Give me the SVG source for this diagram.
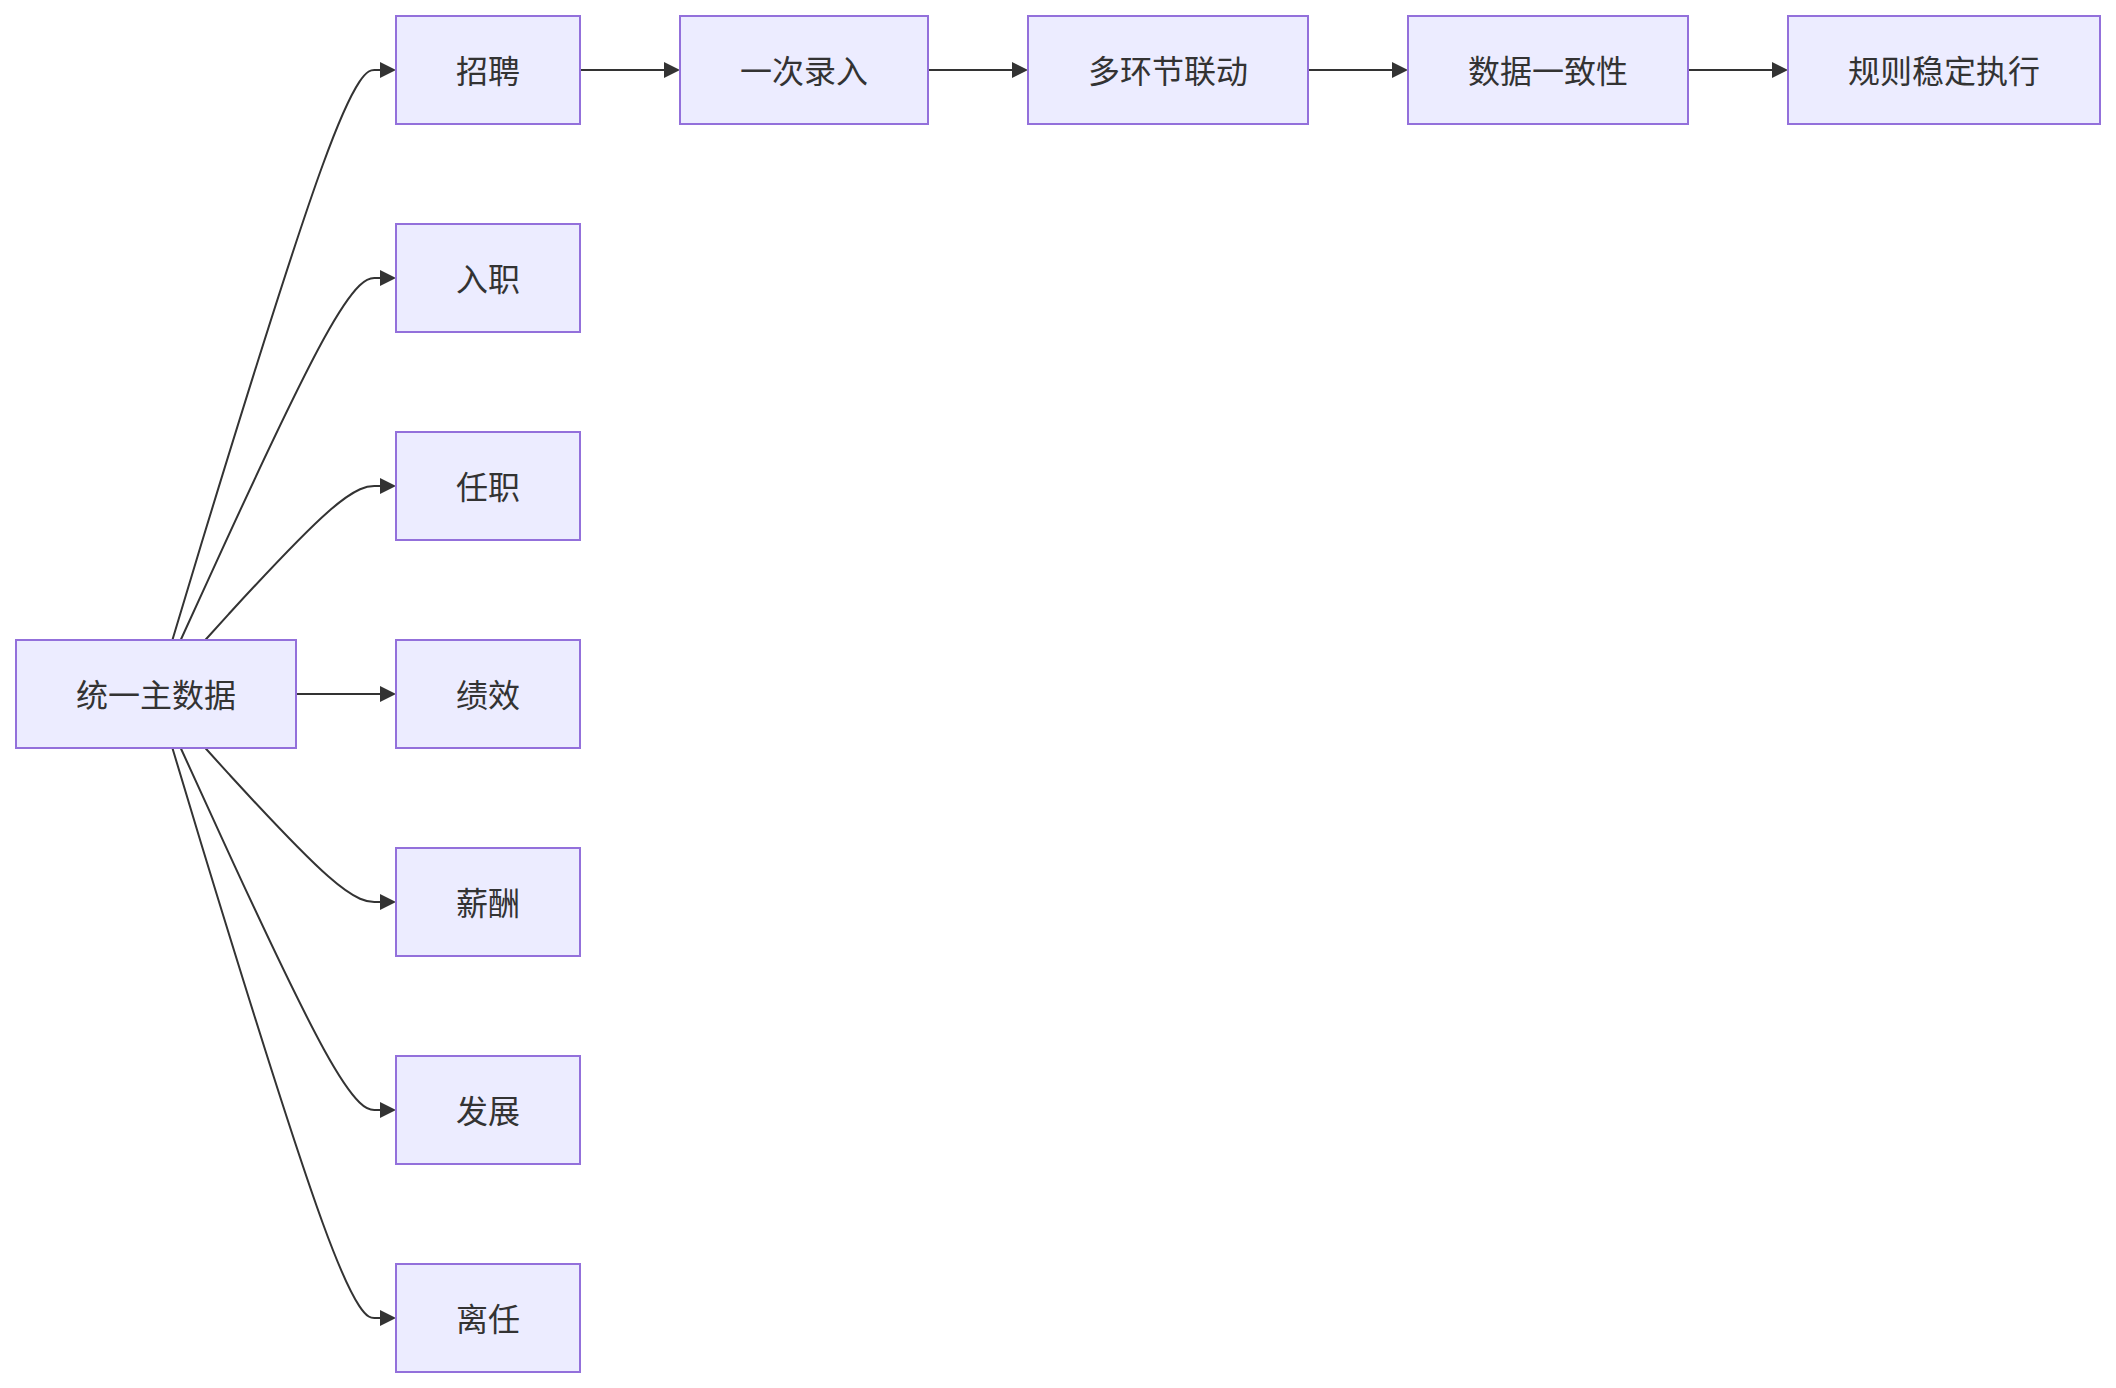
<svg xmlns="http://www.w3.org/2000/svg" width="2116" height="1388" viewBox="0 0 2116 1388">
<style>
.node rect{fill:#ECECFF;stroke:#9370DB;stroke-width:2}
.node text{font-family:"Noto Sans CJK SC","Noto Sans",sans-serif;font-size:32px;fill:#333333;text-anchor:middle;dominant-baseline:central}
.edge{fill:none;stroke:#333333;stroke-width:2;marker-end:url(#arrow)}
</style>
<defs>
<marker id="arrow" viewBox="0 0 10 10" refX="0" refY="5" markerWidth="16" markerHeight="16" markerUnits="userSpaceOnUse" orient="auto">
<path d="M0,0 L10,5 L0,10 z" fill="#333333"/>
</marker>
</defs>
<rect width="2116" height="1388" fill="#ffffff"/>
<g id="connectors">
<path class="edge" d="M172.4,640 L201,545 C230,450 288,260 322.7,165 C357.3,70 368.7,70 374.3,70 L380,70"/>
<path class="edge" d="M180.7,640 L208.3,579.7 C235.8,519.3 290.9,398.7 324.1,338.3 C357.3,278 368.7,278 374.3,278 L380,278"/>
<path class="edge" d="M205.3,640 L228.5,614.3 C252,588.7 299,537.3 328.2,511.7 C357.3,486 368.7,486 374.3,486 L380,486"/>
<path class="edge" d="M296,694 L380,694"/>
<path class="edge" d="M205.3,748 L228.5,773.7 C252,799.3 299,850.7 328.2,876.3 C357.3,902 368.7,902 374.3,902 L380,902"/>
<path class="edge" d="M180.7,748 L208.3,808.3 C235.8,868.7 290.9,989.3 324.1,1049.7 C357.3,1110 368.7,1110 374.3,1110 L380,1110"/>
<path class="edge" d="M172.4,748 L201,843 C230,938 288,1128 322.7,1223 C357.3,1318 368.7,1318 374.3,1318 L380,1318"/>
<path class="edge" d="M580,70 L664,70"/>
<path class="edge" d="M928,70 L1012,70"/>
<path class="edge" d="M1308,70 L1392,70"/>
<path class="edge" d="M1688,70 L1772,70"/>
</g>
<g id="n-main" class="node"><rect x="16" y="640" width="280" height="108"/><text x="156" y="692.5">统一主数据</text></g>
<g id="n-zhaopin" class="node"><rect x="396" y="16" width="184" height="108"/><text x="488" y="68.5">招聘</text></g>
<g id="n-ruzhi" class="node"><rect x="396" y="224" width="184" height="108"/><text x="488" y="276.5">入职</text></g>
<g id="n-renzhi" class="node"><rect x="396" y="432" width="184" height="108"/><text x="488" y="484.5">任职</text></g>
<g id="n-jixiao" class="node"><rect x="396" y="640" width="184" height="108"/><text x="488" y="692.5">绩效</text></g>
<g id="n-xinchou" class="node"><rect x="396" y="848" width="184" height="108"/><text x="488" y="900.5">薪酬</text></g>
<g id="n-fazhan" class="node"><rect x="396" y="1056" width="184" height="108"/><text x="488" y="1108.5">发展</text></g>
<g id="n-liren" class="node"><rect x="396" y="1264" width="184" height="108"/><text x="488" y="1316.5">离任</text></g>
<g id="n-luru" class="node"><rect x="680" y="16" width="248" height="108"/><text x="804" y="68.5">一次录入</text></g>
<g id="n-liandong" class="node"><rect x="1028" y="16" width="280" height="108"/><text x="1168" y="68.5">多环节联动</text></g>
<g id="n-yizhi" class="node"><rect x="1408" y="16" width="280" height="108"/><text x="1548" y="68.5">数据一致性</text></g>
<g id="n-zhixing" class="node"><rect x="1788" y="16" width="312" height="108"/><text x="1944" y="68.5">规则稳定执行</text></g>
</svg>
